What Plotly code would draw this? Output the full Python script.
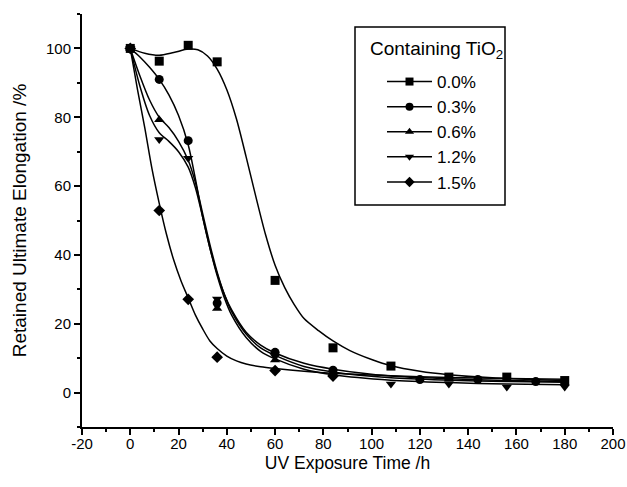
import plotly.graph_objects as go

# ---- measured data points ----
series_names = ["0.0%", "0.3%", "0.6%", "1.2%", "1.5%"]
symbols = ["square", "circle", "triangle-up", "triangle-down", "diamond"]

x_00 = [0, 12, 24, 36, 60, 84, 108, 132, 156, 180]
y_00 = [100, 96.3, 100.9, 96.1, 32.6, 13.0, 7.7, 4.5, 4.5, 3.5]

x_03 = [0, 12, 24, 36, 60, 84, 120, 144, 168]
y_03 = [100, 91.0, 73.2, 26.0, 11.7, 6.5, 3.8, 3.8, 3.2]

x_06 = [0, 12, 36, 60, 84]
y_06 = [100, 79.3, 24.4, 9.5, 5.5]

x_12 = [0, 12, 24, 36, 60, 84, 108, 132, 156, 180]
y_12 = [100, 73.5, 68.1, 27.2, 10.5, 5.0, 2.5, 2.5, 1.6, 1.6]

x_15 = [0, 12, 24, 36, 60, 84]
y_15 = [100, 52.9, 27.1, 10.3, 6.4, 4.8]

# ---- fitted curves ----
fit_x_00 = [0, 6, 12, 18, 24, 28, 32, 36, 40, 44, 48, 52, 56, 60, 64, 68, 72, 78, 84, 91, 100, 108, 120, 132, 150, 180]
fit_y_00 = [100, 98.6, 98, 98.8, 99.8, 99.6, 97.8, 94, 88, 79.5, 68.5, 57, 46, 37, 30.5, 25.5, 21.5, 18, 15, 12.2, 9.6, 7.8, 6.2, 5.2, 4.3, 3.5]

fit_x_mid = [0, 4, 8, 12, 16, 20, 24, 27, 30, 33, 36, 39, 42, 48, 54, 60, 72, 84, 108, 132, 156, 180]
fit_y_03 = [100, 97.5, 94.5, 91, 86.5, 80.5, 72, 62, 51, 42, 34.5, 28.5, 24, 17.5, 13.8, 11.5, 8.5, 6.8, 4.8, 4, 3.5, 3.2]
fit_y_06 = [100, 92, 85, 80, 77, 73, 67.5, 61, 52, 43, 35, 28.5, 23.5, 17, 13, 10.8, 7.6, 6, 4.3, 3.6, 3.2, 3]
fit_y_12 = [100, 89, 80.5, 75.5, 73, 70, 65.5, 59.5, 51, 42, 34, 27.5, 22.5, 16, 12, 9.8, 6.8, 5.2, 3.6, 2.9, 2.5, 2.3]

fit_x_15 = [0, 3, 6, 9, 12, 15, 18, 21, 24, 27, 30, 33, 36, 40, 44, 48, 54, 60, 72, 84, 108, 132, 156, 180]
fit_y_15 = [100, 88, 77, 65, 55, 46, 38.5, 32.5, 27.5, 22.5, 18.5, 15, 12.8, 10.6, 9.2, 8.3, 7.5, 7, 6.2, 5.6, 4.9, 4.4, 4.1, 3.9]

x_ticks = [-20, 0, 20, 40, 60, 80, 100, 120, 140, 160, 180, 200]
y_ticks = [0, 20, 40, 60, 80, 100]
legend_title = "Containing TiO<sub>2</sub>"

points = [(x_00, y_00), (x_03, y_03), (x_06, y_06), (x_12, y_12), (x_15, y_15)]
fits = [(fit_x_00, fit_y_00), (fit_x_mid, fit_y_03), (fit_x_mid, fit_y_06),
        (fit_x_mid, fit_y_12), (fit_x_15, fit_y_15)]

W, H = 627, 487
ML, MR, MT, MB = 82, 14, 14, 60
PW, PH = W - ML - MR, H - MT - MB


def px_to_paper_x(px):
    return (px - ML) / PW


def px_to_paper_y(py):
    return (H - MB - py) / PH


FONT = "Liberation Sans, Arial, sans-serif"
fig = go.Figure()

for (fx, fy) in fits:
    fig.add_trace(go.Scatter(x=fx, y=fy, mode="lines",
                             line=dict(color="black", width=1.5, shape="spline", smoothing=0.8),
                             showlegend=False, hoverinfo="skip"))

for name, sym, (px, py) in zip(series_names, symbols, points):
    fig.add_trace(go.Scatter(x=px, y=py, mode="markers", marker=dict(symbol=sym, size=9, color="black"),
                             showlegend=False, name=name))

for name, sym in zip(series_names, symbols):
    fig.add_trace(go.Scatter(x=[None], y=[None], mode="lines+markers", name=name,
                             marker=dict(symbol=sym, size=8, color="black"),
                             line=dict(color="black", width=1.5)))

# legend frame and title
fig.add_shape(type="rect", xref="paper", yref="paper",
              x0=px_to_paper_x(355), x1=px_to_paper_x(505),
              y0=px_to_paper_y(205), y1=px_to_paper_y(27),
              line=dict(color="black", width=1.5), fillcolor="rgba(0,0,0,0)", layer="above")
fig.add_annotation(text=legend_title, xref="paper", yref="paper",
                   x=px_to_paper_x(436), y=px_to_paper_y(50), xanchor="center", yanchor="middle",
                   showarrow=False, font=dict(size=19, family=FONT, color="black"))

fig.update_layout(
    width=W, height=H,
    margin=dict(l=ML, r=MR, t=MT, b=MB),
    paper_bgcolor="white", plot_bgcolor="white",
    font=dict(family=FONT, size=15, color="black"),
    legend=dict(
        x=px_to_paper_x(382), y=px_to_paper_y(64), xanchor="left", yanchor="top",
        borderwidth=0, bgcolor="rgba(0,0,0,0)", itemwidth=45,
        font=dict(size=17, family=FONT, color="black"),
    ),
    xaxis=dict(
        range=[-20, 200], tickvals=x_ticks, ticktext=[str(v) for v in x_ticks], automargin=False,
        showgrid=False, zeroline=False, showline=True, linecolor="black", linewidth=2,
        ticks="outside", ticklen=6, tickwidth=2, tickcolor="black", ticklabelstandoff=-4,
        minor=dict(dtick=10, ticks="outside", ticklen=3, tickwidth=1.5, tickcolor="black"),
        title=dict(text="UV Exposure Time /h", font=dict(size=17.5, family=FONT), standoff=6),
        tickfont=dict(size=15),
    ),
    yaxis=dict(
        range=[-10, 110], tickvals=y_ticks, ticktext=[str(v) for v in y_ticks], automargin=False,
        showgrid=False, zeroline=False, showline=True, linecolor="black", linewidth=2,
        ticks="outside", ticklen=6, tickwidth=2, tickcolor="black",
        minor=dict(dtick=10, ticks="outside", ticklen=3, tickwidth=1.5, tickcolor="black"),
        title=dict(text="Retained Ultimate Elongation /%", font=dict(size=19, family=FONT), standoff=14),
        tickfont=dict(size=15),
    ),
)

fig.write_html("out.html", config={"displayModeBar": False},
               post_script="document.body.style.margin='0';document.body.style.overflow='hidden';")
